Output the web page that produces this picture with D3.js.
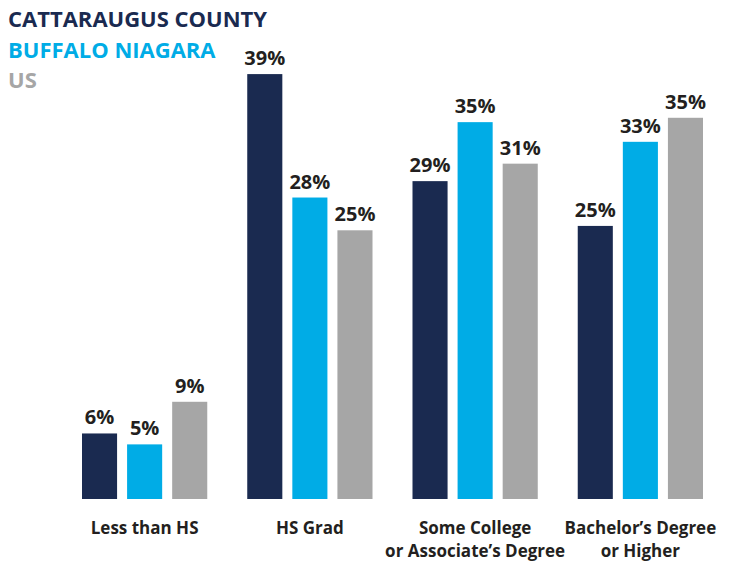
<!DOCTYPE html>
<html>
<head>
<meta charset="utf-8">
<script src="https://cdn.jsdelivr.net/npm/d3@7"></script>
<style>
  body { margin: 0; background: #fff; }
  text { font-family: "Open Sans", Lato, sans-serif; font-weight: 700; }
</style>
</head>
<body>
<div id="vis"></div>
<script>
// education attainment shares
const categories = ["Less than HS", "HS Grad", "Some College|or Associate\u2019s Degree", "Bachelor\u2019s Degree|or Higher"];
const seriesNames = ["CATTARAUGUS COUNTY", "BUFFALO NIAGARA", "US"];
const cattaraugus = [6.0, 38.9, 29.1, 25.0];
const buffaloNiagara = [5.0, 27.6, 34.5, 32.7];
const us = [8.9, 24.6, 30.7, 34.9];
const colors = ["#1a2a50", "#00ace6", "#a6a6a6"];

const width = 732, height = 561;
const baseline = 499;

const svg = d3.select("#vis").append("svg")
  .attr("width", width)
  .attr("height", height);

const x0 = d3.scaleBand()
  .domain(categories)
  .range([82, 703])
  .paddingInner(0.242)
  .paddingOuter(0);

const x1 = d3.scaleBand()
  .domain(seriesNames)
  .range([0, x0.bandwidth()])
  .paddingInner(0.222);

const y = d3.scaleLinear()
  .domain([0, 39])
  .range([baseline, 73]);

const fmt = d3.format(".0f");

const rows = categories.map((c, i) => ({
  cat: c,
  vals: [cattaraugus[i], buffaloNiagara[i], us[i]].map((v, j) => ({ name: seriesNames[j], v: v, color: colors[j] }))
}));

const groups = svg.selectAll(".grp")
  .data(rows)
  .enter().append("g")
  .attr("class", "grp")
  .attr("transform", d => "translate(" + x0(d.cat) + ",0)");

groups.selectAll("rect")
  .data(d => d.vals)
  .enter().append("rect")
  .attr("x", d => x1(d.name))
  .attr("y", d => y(d.v))
  .attr("width", x1.bandwidth())
  .attr("height", d => baseline - y(d.v))
  .attr("fill", d => d.color);

groups.selectAll(".val")
  .data(d => d.vals)
  .enter().append("text")
  .attr("class", "val")
  .attr("x", d => x1(d.name) + x1.bandwidth() / 2)
  .attr("y", d => y(d.v) - 9)
  .attr("text-anchor", "middle")
  .attr("font-size", 20)
  .attr("fill", "#231f20")
  .text(d => fmt(d.v) + "%");

// category labels, can be two lines
groups.append("text")
  .attr("class", "cat")
  .attr("text-anchor", "middle")
  .attr("font-size", 17)
  .attr("fill", "#231f20")
  .selectAll("tspan")
  .data(d => d.cat.split("|"))
  .enter().append("tspan")
  .attr("x", x0.bandwidth() / 2)
  .attr("y", (d, i) => 534 + i * 22.5)
  .text(d => d);

// legend in top left
svg.selectAll(".legend")
  .data(seriesNames)
  .enter().append("text")
  .attr("class", "legend")
  .attr("x", 8)
  .attr("y", (d, i) => 27 + i * 30.5)
  .attr("font-size", 22)
  .attr("fill", (d, i) => colors[i])
  .text(d => d);
</script>
</body>
</html>
